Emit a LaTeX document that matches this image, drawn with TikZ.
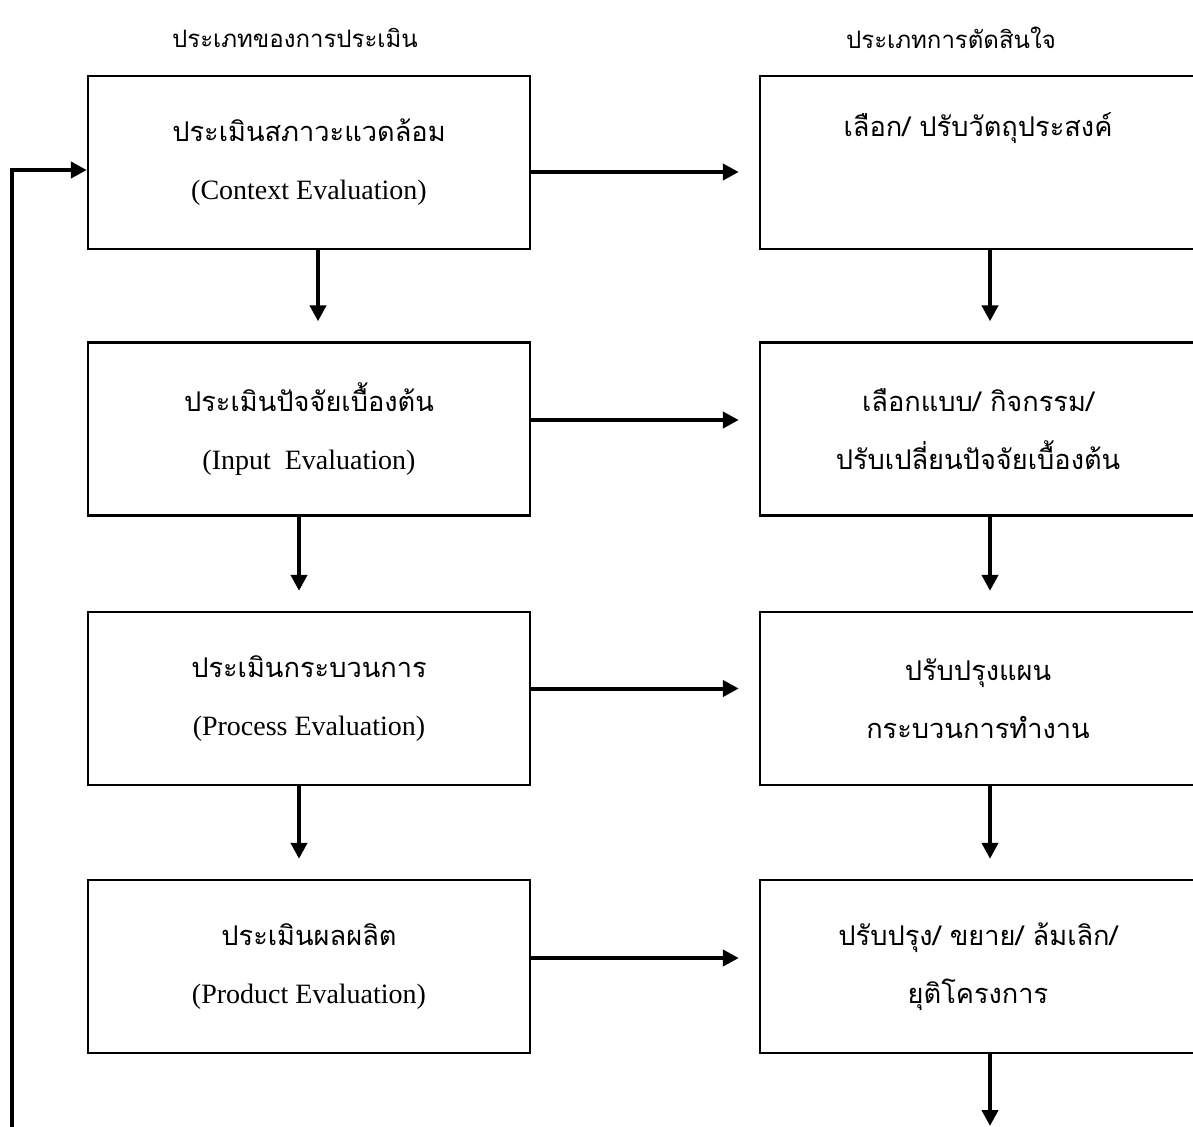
\documentclass[tikz,border=0pt]{standalone}
\usepackage{fontspec}
\setmainfont{Liberation Serif}
\newfontfamily\thaifnt[Script=Thai]{Loma}
\newcommand{\thai}{\thaifnt\fontsize{13.6}{29}\selectfont}
\usetikzlibrary{arrows.meta}
\begin{document}
\begin{tikzpicture}[x=0.5pt,y=-0.5pt,
  box/.style={draw,line width=1.2pt,minimum height=86.5pt,inner sep=0pt,align=center,font=\fontsize{14}{29}\selectfont},
  lbox/.style={box,minimum width=221pt},
  rbox/.style={box,minimum width=218pt},
  arr/.style={line width=2pt,-{Triangle[length=8pt,width=8pt]}},
  head/.style={font=\thaifnt\fontsize{12}{15}\selectfont,inner sep=0pt}]
\clip (0,0) rectangle (1193,1126);
\node[head] (h1) at (295,38) {ประเภทของการประเมิน};
\node[head] (h2) at (951,38) {ประเภทการตัดสินใจ};

\node[lbox] (b1) at (309,162.5) {{\thai ประเมินสภาวะแวดล้อม}\\(Context Evaluation)};
\node[lbox] (b2) at (309,429) {{\thai ประเมินปัจจัยเบื้องต้น}\\(Input\ \ Evaluation)};
\node[lbox] (b3) at (309,698.5) {{\thai ประเมินกระบวนการ}\\(Process Evaluation)};
\node[lbox] (b4) at (309,966.5) {{\thai ประเมินผลผลิต}\\(Product Evaluation)};

\node[rbox] (r1) at (978,162.5) {{\thai เลือก/ ปรับวัตถุประสงค์}\\\strut};
\node[rbox] (r2) at (978,429) {{\thai เลือกแบบ/ กิจกรรม/}\\{\thai ปรับเปลี่ยนปัจจัยเบื้องต้น}};
\node[rbox] (r3) at (978,698.5) {{\thai ปรับปรุงแผน}\\{\thai กระบวนการทำงาน}};
\node[rbox] (r4) at (978,966.5) {{\thai ปรับปรุง/ ขยาย/ ล้มเลิก/}\\{\thai ยุติโครงการ}};

\draw[arr,shorten >=10pt] ([yshift=-4.75pt]b1.east) -- ([yshift=-4.75pt]r1.west);
\draw[arr,shorten >=10pt] ([yshift=4.5pt]b2.east) -- ([yshift=4.5pt]r2.west);
\draw[arr,shorten >=10pt] ([yshift=5pt]b3.east) -- ([yshift=5pt]r3.west);
\draw[arr,shorten >=10pt] ([yshift=4.25pt]b4.east) -- ([yshift=4.25pt]r4.west);

\draw[arr,shorten >=10pt] ([xshift=4.5pt]b1.south) -- ([xshift=4.5pt]b2.north);
\draw[arr,shorten >=10pt] ([xshift=-5pt]b2.south) -- ([xshift=-5pt]b3.north);
\draw[arr,shorten >=10pt] ([xshift=-5pt]b3.south) -- ([xshift=-5pt]b4.north);

\draw[arr,shorten >=10pt] ([xshift=6pt]r1.south) -- ([xshift=6pt]r2.north);
\draw[arr,shorten >=10pt] ([xshift=6pt]r2.south) -- ([xshift=6pt]r3.north);
\draw[arr,shorten >=10pt] ([xshift=6pt]r3.south) -- ([xshift=6pt]r4.north);
\coordinate (rend) at (990,1126);
\draw[arr] ([xshift=6pt]r4.south) -- (rend);

\coordinate (fb) at (12,1130);
\draw[arr] (fb) |- ([yshift=-3.75pt]b1.west);
\end{tikzpicture}
\end{document}
